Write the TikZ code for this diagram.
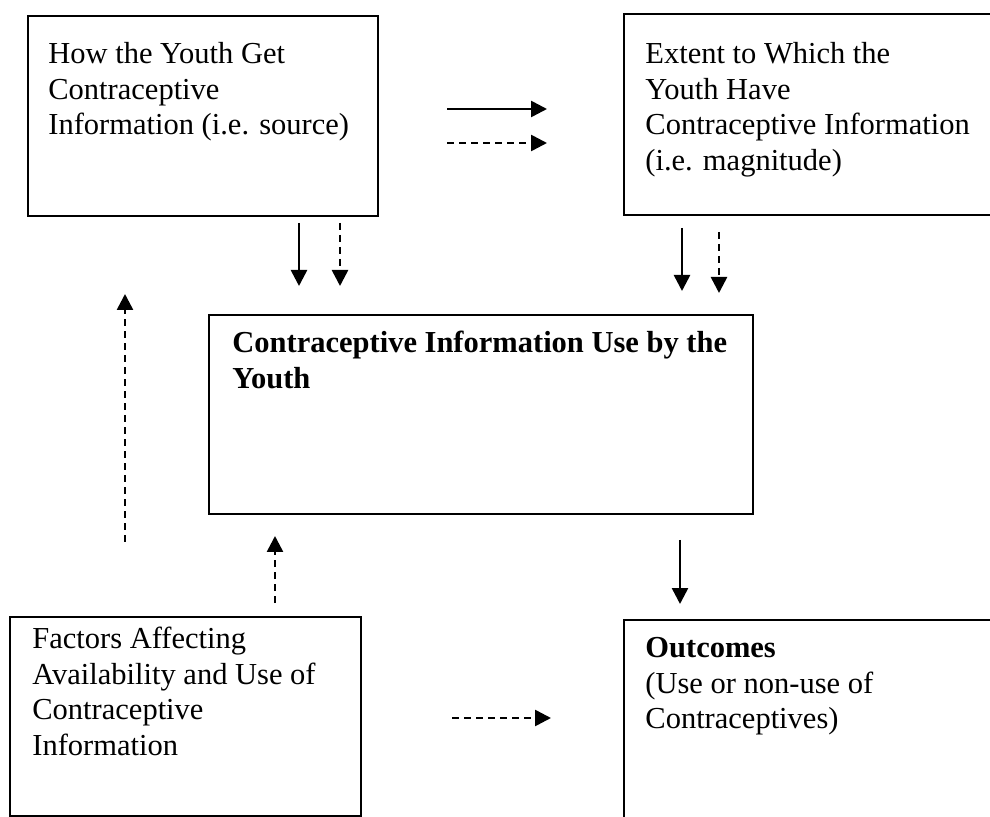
\documentclass[tikz,border=0pt]{standalone}
\usepackage{fontspec}
\setmainfont{Liberation Serif}
\usetikzlibrary{arrows.meta}

\begin{document}
\begin{tikzpicture}[
            x=0.5pt, y=-0.5pt,
            box/.style={draw,line width=1.1pt,rectangle,anchor=north west,inner sep=0pt},
            txt/.style={anchor=north west,inner sep=0pt,align=left,font=\fontsize{15.25}{17.75}\selectfont},
            arr/.style={-{Triangle[length=8pt,width=8pt]},line width=1.3pt},
            dsh/.style={arr,dash pattern=on 3.5pt off 2.5pt}
        ]

        \clip (0,0) rectangle (990,817);

        % boxes
        \node[box,minimum width=175pt,minimum height=100pt] (source) at (27,15) {};
        \node[box,minimum width=210pt,minimum height=100.5pt] (magnitude) at (623,13) {};
        \node[box,minimum width=272pt,minimum height=99.5pt] (use) at (208,314) {};
        \node[box,minimum width=175.5pt,minimum height=99.5pt] (factors) at (9,616) {};
        \node[box,minimum width=210pt,minimum height=130pt] (outcomes) at (623,619) {};

        % texts
        \node[txt] (sourcetxt) at (48,42) {How the Youth Get\\Contraceptive\\Information (i.e. source)};
        \node[txt] (magtxt) at (645,42) {Extent to Which the\\Youth Have\\Contraceptive Information\\(i.e. magnitude)};
        \node[txt,font=\fontsize{15.25}{17.75}\selectfont\bfseries] (usetxt) at (232,331) {Contraceptive Information Use by the\\Youth};
        \node[txt] (factxt) at (32,627) {Factors Affecting\\Availability and Use of\\Contraceptive\\Information};
        \node[txt] (outtxt) at (645,637) {\textbf{Outcomes}\\(Use or non-use of\\Contraceptives)};

        % arrow ends
        \coordinate (h1a) at (447,109);  \coordinate (h1b) at (547,109);
        \coordinate (h2a) at (447,143);  \coordinate (h2b) at (547,143);
        \coordinate (v1a) at (299,223);  \coordinate (v1b) at (299,286);
        \coordinate (v2a) at (340,223);  \coordinate (v2b) at (340,286);
        \coordinate (v3a) at (682,228);  \coordinate (v3b) at (682,291);
        \coordinate (v4a) at (719,232);  \coordinate (v4b) at (719,293);
        \coordinate (u1a) at (125,542);  \coordinate (u1b) at (125,294);
        \coordinate (u2a) at (275,603);  \coordinate (u2b) at (275,536);
        \coordinate (d1a) at (680,540);  \coordinate (d1b) at (680,604);
        \coordinate (h3a) at (452,718);  \coordinate (h3b) at (551,718);

        \draw[arr] (h1a) -- (h1b);
        \draw[dsh] (h2a) -- (h2b);
        \draw[arr] (v1a) -- (v1b);
        \draw[dsh] (v2a) -- (v2b);
        \draw[arr] (v3a) -- (v3b);
        \draw[dsh] (v4a) -- (v4b);
        \draw[dsh] (u1a) -- (u1b);
        \draw[dsh] (u2a) -- (u2b);
        \draw[arr] (d1a) -- (d1b);
        \draw[dsh] (h3a) -- (h3b);

    \end{tikzpicture}
\end{document}
